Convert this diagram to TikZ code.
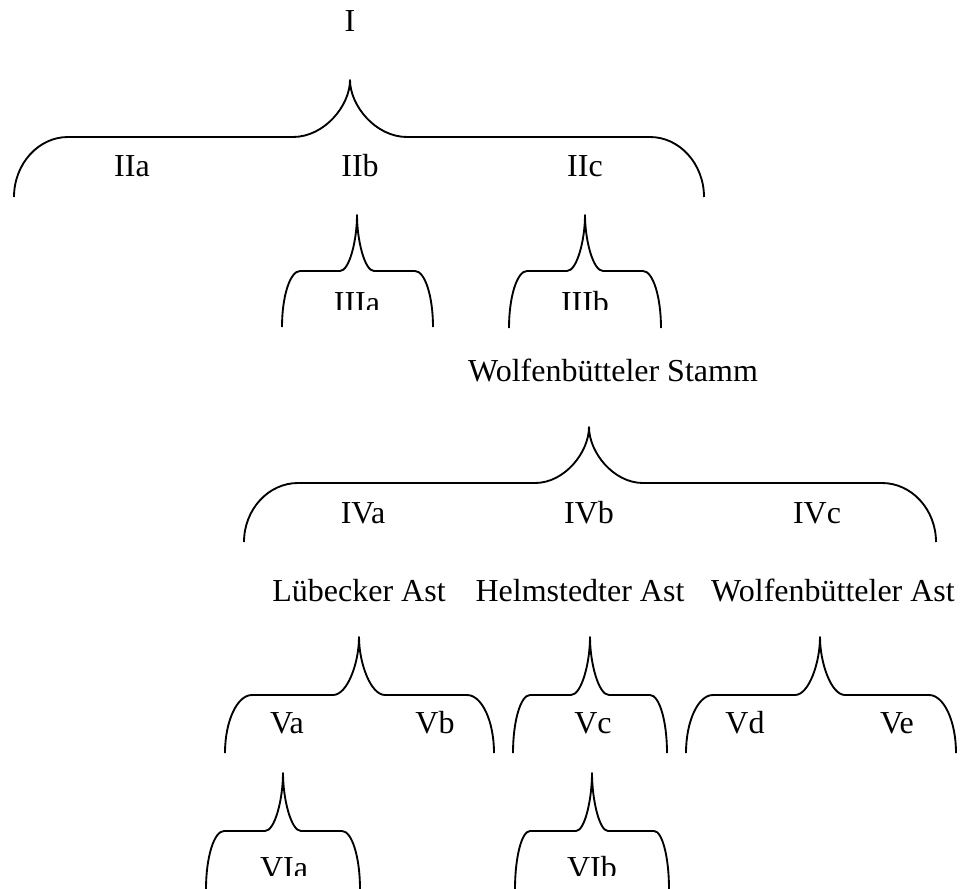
\documentclass[tikz,border=0pt]{standalone}
\usepackage{fontspec}
\setmainfont{Liberation Serif}
\begin{document}
% Family tree of the manuscript stemma, drawn with curly braces.
% Units: x and y in px, y grows downwards.
% \stembrace{left}{right}{tip x}{tip y}{bar y}{foot y}{corner width}{cusp half-width}
\newcommand{\stembrace}[8]{%
  \draw[bracestroke]
    (#1,#6) .. controls (#1,#6-0.55*#6+0.55*#5) and (#1+0.45*#7,#5) .. (#1+#7,#5)
    -- (#3-#8,#5) .. controls (#3-0.45*#8,#5) and (#3,#4+0.45*#5-0.45*#4) .. (#3,#4)
    .. controls (#3,#4+0.45*#5-0.45*#4) and (#3+0.45*#8,#5) .. (#3+#8,#5)
    -- (#2-#7,#5) .. controls (#2-0.45*#7,#5) and (#2,#6-0.55*#6+0.55*#5) .. (#2,#6);}
\begin{tikzpicture}[x=0.75pt,y=-0.75pt,
  bracestroke/.style={line width=1.4pt,line join=round},
  lbl/.style={anchor=base,inner sep=0pt,font=\fontsize{24}{28}\selectfont}]
\useasboundingbox (0,0) rectangle (964,889);

% braces
\stembrace{14}{704}{350}{80}{137}{197}{54}{57}
\stembrace{282}{433}{357}{215}{271}{327}{18}{17}
\stembrace{509}{661}{585}{215}{271}{328}{18}{18}
\stembrace{244}{936}{589}{427}{483}{542}{54}{54}
\stembrace{225}{494}{359}{637}{695}{753}{27}{26}
\stembrace{513}{667}{590}{637}{695}{753}{17}{19}
\stembrace{686}{956}{820}{637}{695}{753}{27}{25}
\stembrace{206}{360}{283}{773}{831}{889}{18}{18}
\stembrace{515}{669}{592}{773}{831}{889}{15}{16}

% labels
\node[lbl] (n1) at (350,31) {I};
\node[lbl] (n2a) at (132,176) {IIa};
\node[lbl] (n2b) at (360,176) {IIb};
\node[lbl] (n2c) at (585,176) {IIc};
\begin{scope}
  \clip (0,250) rectangle (964,309);
  \node[lbl] (n3a) at (357,313) {IIIa};
  \node[lbl] (n3b) at (585,313) {IIIb};
\end{scope}
\node[lbl] (ws) at (613,381) {Wolfenbütteler Stamm};
\node[lbl] (n4a) at (363,523) {IVa};
\node[lbl] (n4b) at (589,523) {IVb};
\node[lbl] (n4c) at (817,523) {IVc};
\node[lbl] (la) at (359,601) {Lübecker Ast};
\node[lbl] (ha) at (580,601) {Helmstedter Ast};
\node[lbl] (wa) at (833,601) {Wolfenbütteler Ast};
\node[lbl] (n5a) at (287,733) {Va};
\node[lbl] (n5b) at (435,733) {Vb};
\node[lbl] (n5c) at (593,733) {Vc};
\node[lbl] (n5d) at (745,733) {Vd};
\node[lbl] (n5e) at (897,733) {Ve};
\begin{scope}
  \clip (0,840) rectangle (964,875);
  \node[lbl] (n6a) at (284,878) {VIa};
  \node[lbl] (n6b) at (592,878) {VIb};
\end{scope}
\end{tikzpicture}
\end{document}
